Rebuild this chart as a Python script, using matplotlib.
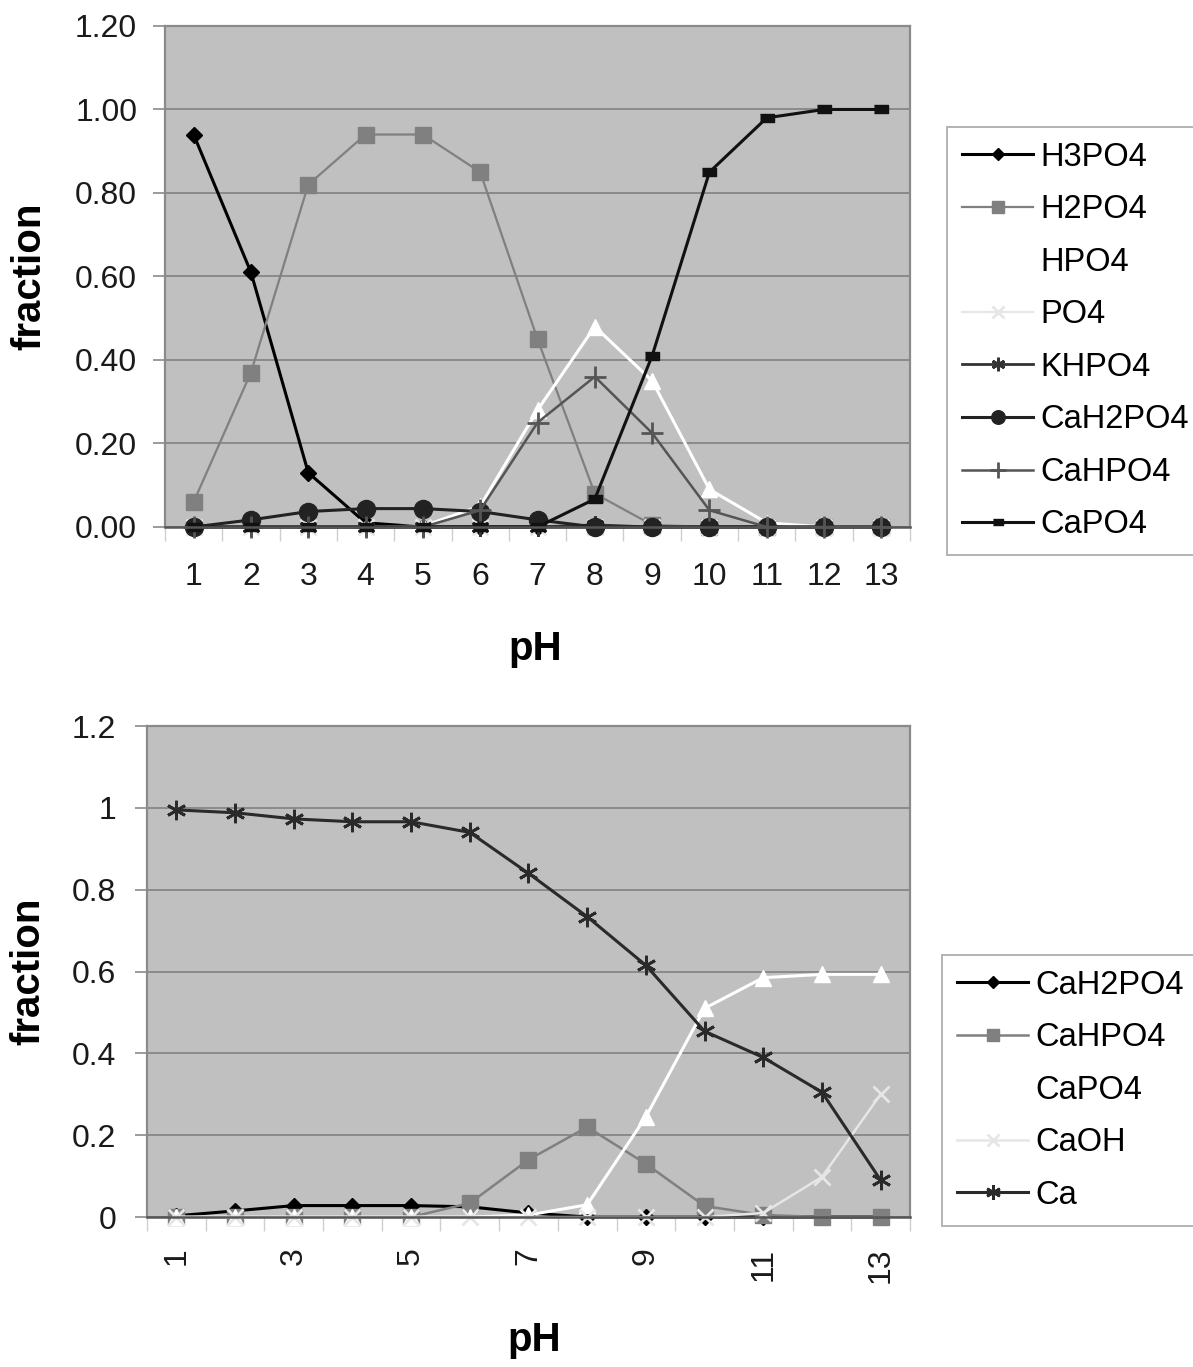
import matplotlib
matplotlib.use("Agg")
import matplotlib.pyplot as plt

plt.rcParams['font.family'] = ['Liberation Sans', 'DejaVu Sans']

# pH values (categories)
ph = [1, 2, 3, 4, 5, 6, 7, 8, 9, 10, 11, 12, 13]

# top chart: phosphate species
h3po4 = [0.94, 0.61, 0.13, 0.01, 0.0, 0.0, 0.0, 0.0, 0.0, 0.0, 0.0, 0.0, 0.0]
h2po4 = [0.06, 0.37, 0.82, 0.94, 0.94, 0.85, 0.45, 0.08, 0.005, 0.0, 0.0, 0.0, 0.0]
hpo4 = [0.0, 0.0, 0.0, 0.0, 0.002, 0.05, 0.28, 0.48, 0.35, 0.09, 0.01, 0.0, 0.0]
po4 = [0.0, 0.0, 0.0, 0.0, 0.0, 0.0, 0.0, 0.0, 0.0, 0.0, 0.0, 0.0, 0.0]
khpo4 = [0.0, 0.0, 0.0, 0.0, 0.0, 0.0, 0.0, 0.005, 0.0, 0.0, 0.0, 0.0, 0.0]
cah2po4_top = [0.0, 0.017, 0.037, 0.044, 0.044, 0.037, 0.017, 0.0, 0.0, 0.0, 0.0, 0.0, 0.0]
cahpo4_top = [0.0, 0.0, 0.0, 0.0, 0.0, 0.04, 0.25, 0.36, 0.225, 0.04, 0.0, 0.0, 0.0]
capo4_top = [0.0, 0.0, 0.0, 0.0, 0.0, 0.0, 0.0, 0.067, 0.41, 0.85, 0.98, 1.0, 1.0]

# bottom chart: calcium species
cah2po4 = [0.003, 0.015, 0.028, 0.028, 0.028, 0.025, 0.01, 0.0, 0.0, 0.0, 0.0, 0.0, 0.0]
cahpo4 = [0.0, 0.0, 0.0, 0.0, 0.0, 0.034, 0.14, 0.22, 0.13, 0.027, 0.005, 0.0, 0.0]
capo4 = [0.0, 0.0, 0.0, 0.0, 0.0, 0.0, 0.005, 0.03, 0.245, 0.51, 0.585, 0.593, 0.593]
caoh = [0.0, 0.0, 0.0, 0.0, 0.0, 0.0, 0.0, 0.0, 0.0, 0.0, 0.01, 0.098, 0.30]
ca = [0.995, 0.988, 0.973, 0.966, 0.966, 0.94, 0.84, 0.734, 0.615, 0.454, 0.39, 0.305, 0.09]

top_ticks = ['0.00', '0.20', '0.40', '0.60', '0.80', '1.00', '1.20']
bottom_ticks = ['0', '0.2', '0.4', '0.6', '0.8', '1', '1.2']

ASTER = (6, 2, 0)
RECT = [(-1, -0.55), (1, -0.55), (1, 0.55), (-1, 0.55)]
FS = 23
LFS = 23.5


def style_axes(ax, labels):
    ax.set_facecolor('#c0c0c0')
    ax.set_xlim(0.5, 13.5)
    ax.set_ylim(0, 1.2)
    ax.set_yticks([0, 0.2, 0.4, 0.6, 0.8, 1.0, 1.2])
    ax.set_yticklabels(labels)
    ax.yaxis.grid(True, color='#8a8a8a', lw=1.4)
    ax.set_axisbelow(True)
    for s in ['top', 'right', 'left']:
        ax.spines[s].set_color('#8a8a8a')
        ax.spines[s].set_linewidth(1.6)
    ax.spines['bottom'].set_color('#555555')
    ax.spines['bottom'].set_linewidth(1.8)
    ax.tick_params(axis='y', length=9, width=1.2, color='#8a8a8a',
                   pad=11, labelsize=FS, labelcolor='#1a1a1a')
    # tick marks between categories
    ax.set_xticks([x + 0.5 for x in range(0, 14)], minor=True)
    ax.tick_params(axis='x', which='minor', length=10, width=1.0, color='#cfcfcf')


def add_legend(ax, x0, y0):
    leg = fig.legend(handles=ax.get_lines(), loc='upper left',
                     bbox_to_anchor=(x0 / 1193, 1 - y0 / 1367), borderaxespad=0,
                     fontsize=LFS, frameon=True, fancybox=False, edgecolor='#a0a0a0',
                     handlelength=2.2, handletextpad=0.2, labelspacing=0.66,
                     borderpad=0.45, markerscale=0.75, numpoints=1)
    leg.get_frame().set_linewidth(1.4)
    return leg


fig = plt.figure(figsize=(11.93, 13.67), dpi=100)

# ---------- top chart ----------
ax1 = fig.add_axes([0.1383, 0.6145, 0.6245, 0.3665])
style_axes(ax1, top_ticks)
ax1.set_xticks(ph)
ax1.set_xticklabels([str(p) for p in ph])
ax1.tick_params(axis='x', which='major', length=0, pad=25, labelsize=FS, labelcolor='#1a1a1a')

ax1.plot(ph, h3po4, color='black', lw=2.2, marker='D', ms=8.5, label='H3PO4', clip_on=False)
ax1.plot(ph, h2po4, color='#808080', lw=1.6, marker='s', ms=12, label='H2PO4', clip_on=False)
ax1.plot(ph, hpo4, color='white', lw=2.2, marker='^', ms=12, label='HPO4', clip_on=False)
ax1.plot(ph, po4, color='#e6e6e6', lw=1.6, marker='x', ms=11, mew=2, label='PO4', clip_on=False)
ax1.plot(ph, khpo4, color='#333333', lw=2.0, marker=ASTER, ms=13, mew=2, label='KHPO4', clip_on=False)
ax1.plot(ph, cah2po4_top, color='#222222', lw=2.2, marker='o', ms=13, label='CaH2PO4', clip_on=False)
ax1.plot(ph, cahpo4_top, color='#555555', lw=1.8, marker='+', ms=16, mew=2, label='CaHPO4', clip_on=False)
ax1.plot(ph, capo4_top, color='#111111', lw=2.2, marker=RECT, ms=10, label='CaPO4', clip_on=False)

ax1.set_ylabel('fraction', fontsize=29, fontweight='bold')
ax1.yaxis.set_label_coords(-0.157, 0.5)
ax1.set_xlabel('pH', fontsize=29, fontweight='bold')
ax1.xaxis.set_label_coords(0.497, -0.205)

add_legend(ax1, 947, 127)

# ---------- bottom chart ----------
ax2 = fig.add_axes([0.1232, 0.1097, 0.6396, 0.3592])
style_axes(ax2, bottom_ticks)
ax2.tick_params(axis='y', pad=13)
odd = [p for p in ph if p % 2 == 1]
ax2.set_xticks(odd)
ax2.set_xticklabels([str(p) for p in odd], rotation=90, va='top', ha='center')
ax2.tick_params(axis='x', which='major', length=0, pad=22, labelsize=FS, labelcolor='#1a1a1a')

ax2.plot(ph, cah2po4, color='black', lw=2.2, marker='D', ms=8, label='CaH2PO4', clip_on=False)
ax2.plot(ph, cahpo4, color='#808080', lw=1.8, marker='s', ms=12, label='CaHPO4', clip_on=False)
ax2.plot(ph, capo4, color='white', lw=2.2, marker='^', ms=12, label='CaPO4', clip_on=False)
ax2.plot(ph, caoh, color='#e6e6e6', lw=1.8, marker='x', ms=12, mew=2, label='CaOH', clip_on=False)
ax2.plot(ph, ca, color='#2a2a2a', lw=2.2, marker=ASTER, ms=14, mew=2, label='Ca', clip_on=False)

ax2.set_ylabel('fraction', fontsize=29, fontweight='bold')
ax2.yaxis.set_label_coords(-0.130, 0.5)
ax2.set_xlabel('pH', fontsize=29, fontweight='bold')
ax2.xaxis.set_label_coords(0.508, -0.212)

add_legend(ax2, 942, 955)

fig.savefig('out.png', dpi=100, facecolor='white')
